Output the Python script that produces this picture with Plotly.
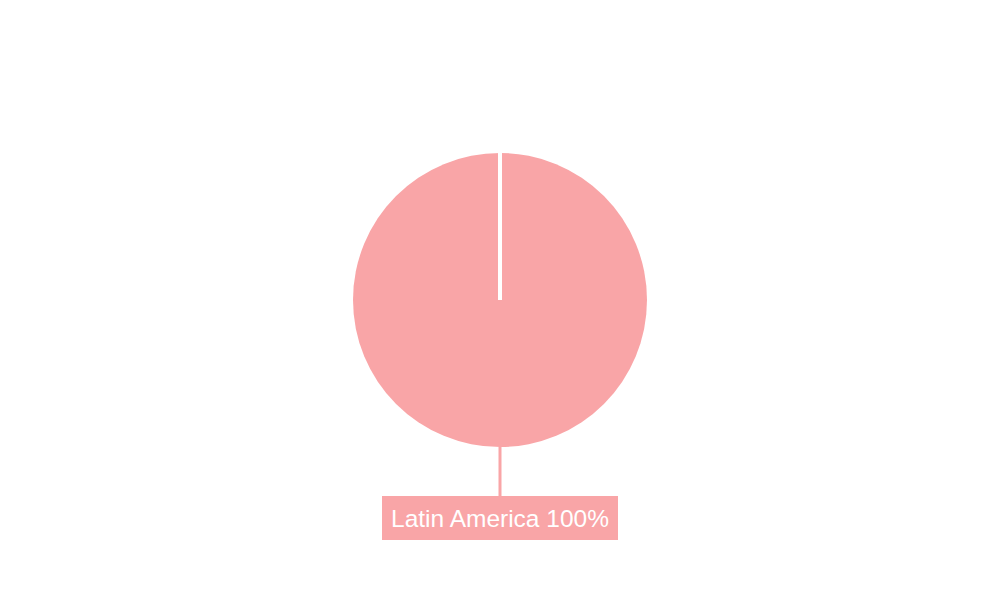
import plotly.graph_objects as go

# data
regions = ["Latin America"]
shares = [100]
colors = ["#F9A5A7"]

# pie placement (paper coords)
pie_bottom, pie_top = 0.2483, 0.7517
pie_mid = (pie_bottom + pie_top) / 2

fig = go.Figure()
fig.add_trace(go.Pie(
    labels=regions,
    values=shares,
    marker=dict(colors=colors, line=dict(width=0)),
    textinfo="none",
    hoverinfo="label+percent",
    sort=False,
    direction="clockwise",
    rotation=0,
    showlegend=False,
    domain=dict(x=[0, 1], y=[pie_bottom, pie_top]),
))

total = sum(shares)
for name, val, col in zip(regions, shares, colors):
    fig.add_annotation(
        x=0.5, y=pie_bottom + 0.0034, xref="paper", yref="paper",
        text=f"{name} {round(val / total * 100)}%",
        showarrow=True, arrowhead=0, arrowwidth=3, arrowcolor=col,
        ax=0, ay=73, standoff=2,
        bgcolor=col, borderpad=0, borderwidth=0,
        width=236, height=44,
        font=dict(family="Liberation Sans, Arial, sans-serif", size=24.5, color="white"),
    )

# slice seam from the centre to the top, as in the original
fig.add_shape(type="line", xref="paper", yref="paper",
              x0=0.5, x1=0.5, y0=pie_mid, y1=pie_top,
              line=dict(color="white", width=4))

fig.update_layout(
    margin=dict(l=0, r=0, t=0, b=0),
    paper_bgcolor="white",
    plot_bgcolor="white",
)

fig.write_html("out.html")
